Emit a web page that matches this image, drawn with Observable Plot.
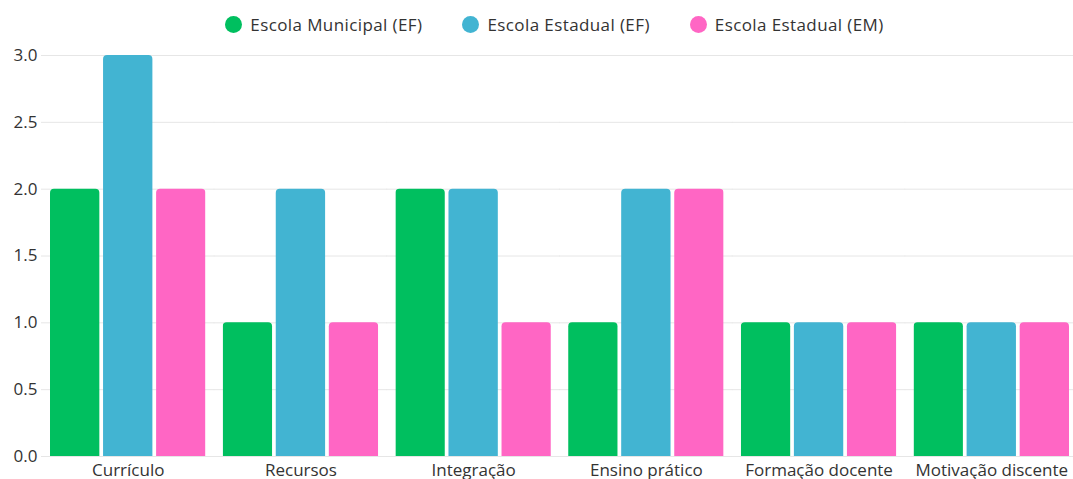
<!DOCTYPE html>
<html><head><meta charset="utf-8">
<script src="https://cdn.jsdelivr.net/npm/d3@7"></script>
<script src="https://cdn.jsdelivr.net/npm/@observablehq/plot@0.6"></script>
<style>
body{margin:0;background:#fff;font-family:"Open Sans",sans-serif;}
#legend{height:46px;padding-top:3px;display:flex;justify-content:center;align-items:center;gap:40px;font-size:17px;letter-spacing:0.4px;color:#333;padding-left:36px;box-sizing:border-box;}
#legend .item{display:flex;align-items:center;gap:8px;}
#legend .dot{width:17px;height:17px;border-radius:50%;display:inline-block;}
</style></head>
<body>
<div id="legend"></div>
<div id="chart"></div>
<script>
const categories = ["Currículo","Recursos","Integração","Ensino prático","Formação docente","Motivação discente"];
const series = ["Escola Municipal (EF)","Escola Estadual (EF)","Escola Estadual (EM)"];
const colors = ["#00bf5f","#42b4d2","#ff66c4"];
const municipalEF = [2,1,2,1,1,1];
const estadualEF  = [3,2,2,2,1,1];
const estadualEM  = [2,1,1,2,1,1];
const yTicks = [0,0.5,1,1.5,2,2.5,3];

const values = [municipalEF, estadualEF, estadualEM];
const data = [];
categories.forEach((c,i)=>series.forEach((s,j)=>data.push({cat:c, series:s, value:values[j][i]})));

const leg = document.getElementById("legend");
series.forEach((s,j)=>{
  const it=document.createElement("div");it.className="item";
  it.innerHTML=`<span class="dot" style="background:${colors[j]}"></span><span>${s}</span>`;
  leg.appendChild(it);
});

const chart = Plot.plot({
  width:1073, height:433,
  marginLeft:50, marginRight:4, marginTop:9, marginBottom:23,
  style:{fontFamily:"Open Sans, sans-serif", fontSize:"16px", color:"#333", background:"#fff", overflow:"visible"},
  fx:{domain:categories, paddingInner:0.1, paddingOuter:0, round:false, label:null},
  x:{domain:series, paddingInner:0.07, paddingOuter:0, round:false, axis:null},
  y:{domain:[0,3], label:null},
  color:{domain:series, range:colors},
  marks:[
    Plot.ruleY(yTicks, {y:d=>d, stroke:"#e6e6e6", strokeWidth:1, insetLeft:-9, insetRight:-9}),
    Plot.axisY(yTicks, {tickSize:0, tickPadding:13, tickFormat:d3.format(".1f"), label:null, fill:"#333", fontSize:17, style:"letter-spacing:0.3px"}),
    Plot.axisFx({anchor:"bottom", tickSize:0, tickPadding:7, label:null, fill:"#333", fontSize:17, style:"letter-spacing:0.2px"}),
    Plot.barY(data, {fx:"cat", x:"series", y:"value", fill:"series", rx:4, insetBottom:-6, clip:true})
  ]
});
document.getElementById("chart").appendChild(chart);
</script>
</body></html>
